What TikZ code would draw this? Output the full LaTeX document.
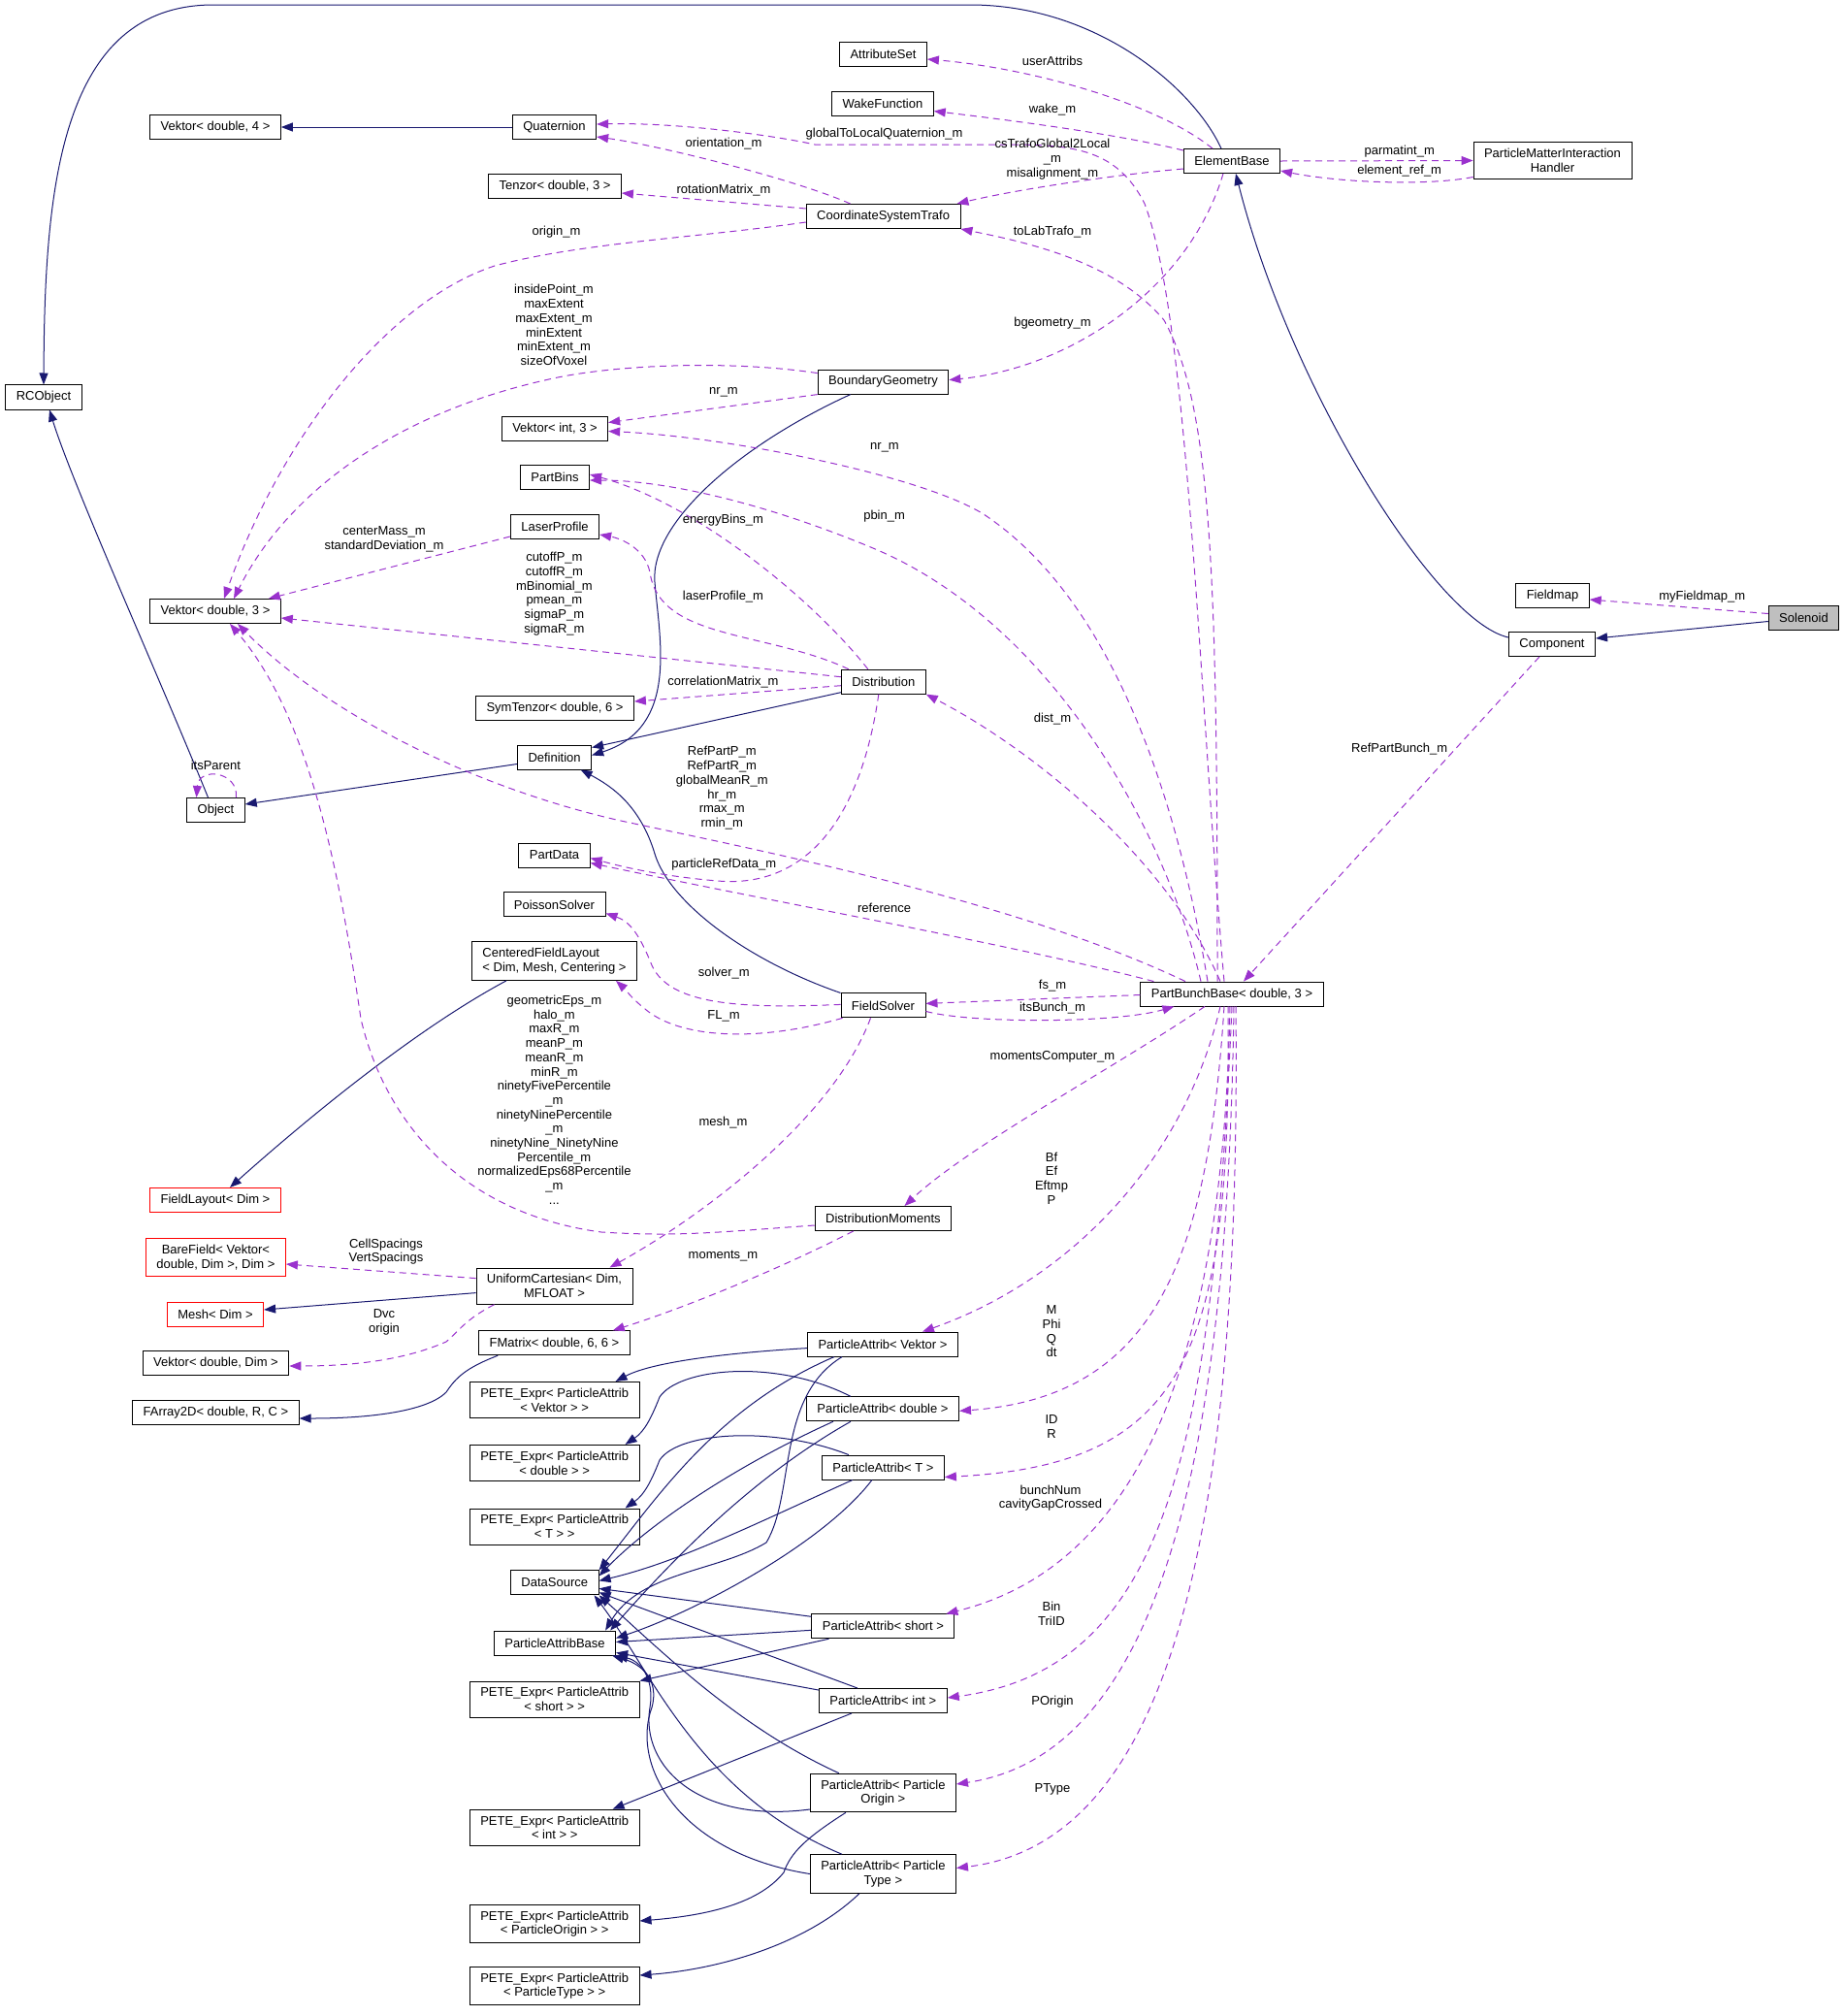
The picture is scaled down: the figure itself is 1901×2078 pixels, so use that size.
\documentclass[tikz,border=0pt]{standalone}
\usepackage{fontspec}
\setmainfont{Liberation Sans}
\usetikzlibrary{arrows.meta,calc}
\definecolor{inheritblue}{HTML}{191970}
\definecolor{usespurple}{HTML}{9A32CD}
\definecolor{rootgrey}{HTML}{BFBFBF}
\begin{document}
\begin{tikzpicture}[
    x=1pt, y=-1pt,
    font=\fontsize{13}{14.7}\selectfont,
    cls/.style={draw=black, line width=0.9pt, fill=white, minimum height=25pt, inner xsep=11pt, inner ysep=6.5pt, align=center},
    clsl/.style={cls, align=left},
    incomplete/.style={cls, draw=red},
    root/.style={cls, fill=rootgrey},
    lbl/.style={align=center, inner sep=0pt},
    uses/.style={draw=usespurple, line width=1pt, dash pattern=on 7pt off 5pt, -{Triangle[length=12pt,width=9pt]}},
    inherit/.style={draw=inheritblue, line width=1pt, -{Triangle[length=12pt,width=9pt]}}
]
\useasboundingbox (0,0) rectangle (1901,2078);

\node[cls] (RCObject) at (45,409.5) {RCObject};
\node[cls] (Vektor4) at (222,131) {Vektor< double, 4 >};
\node[cls] (Vektor3) at (222,630) {Vektor< double, 3 >};
\node[cls] (Object) at (222.5,835) {Object};
\node[incomplete] (FieldLayout) at (222,1237) {FieldLayout< Dim >};
\node[incomplete] (BareField) at (222.4,1296) {BareField< Vektor<\\double, Dim >, Dim >};
\node[incomplete] (Mesh) at (222,1355) {Mesh< Dim >};
\node[cls] (VektorDim) at (222.5,1405) {Vektor< double, Dim >};
\node[cls] (FArray2D) at (222.4,1456) {FArray2D< double, R, C >};

\node[cls] (Quaternion) at (571.5,131) {Quaternion};
\node[cls] (Tenzor) at (572,192) {Tenzor< double, 3 >};
\node[cls] (VektorInt3) at (572,441.5) {Vektor< int, 3 >};
\node[cls] (PartBins) at (572,492) {PartBins};
\node[cls] (LaserProfile) at (572,543) {LaserProfile};
\node[cls] (SymTenzor) at (572,730) {SymTenzor< double, 6 >};
\node[cls] (Definition) at (571.6,780.5) {Definition};
\node[cls] (PartData) at (571.5,881.5) {PartData};
\node[cls] (PoissonSolver) at (571.5,932.4) {PoissonSolver};
\node[clsl] (CFL) at (571.5,990.5) {CenteredFieldLayout\\< Dim, Mesh, Centering >};
\node[cls] (UniformCartesian) at (571.5,1325.6) {UniformCartesian< Dim,\\MFLOAT >};
\node[cls] (FMatrix) at (571.5,1384.3) {FMatrix< double, 6, 6 >};
\node[cls] (PeteVektor) at (571.7,1443) {PETE\_Expr< ParticleAttrib\\< Vektor > >};
\node[cls] (PeteDouble) at (571.7,1508) {PETE\_Expr< ParticleAttrib\\< double > >};
\node[cls] (PeteT) at (571.7,1573.5) {PETE\_Expr< ParticleAttrib\\< T > >};
\node[cls] (DataSource) at (571.8,1631.4) {DataSource};
\node[cls] (PAB) at (572,1693.5) {ParticleAttribBase};
\node[cls] (PeteShort) at (571.7,1751.6) {PETE\_Expr< ParticleAttrib\\< short > >};
\node[cls] (PeteInt) at (571.7,1883.8) {PETE\_Expr< ParticleAttrib\\< int > >};
\node[cls] (PeteOrigin) at (571.7,1983) {PETE\_Expr< ParticleAttrib\\< ParticleOrigin > >};
\node[cls] (PeteType) at (571.7,2047) {PETE\_Expr< ParticleAttrib\\< ParticleType > >};

\node[cls] (AttributeSet) at (910.5,56) {AttributeSet};
\node[cls] (WakeFunction) at (910,106.5) {WakeFunction};
\node[cls] (CST) at (910.6,223) {CoordinateSystemTrafo};
\node[cls] (BoundaryGeometry) at (910.5,393.6) {BoundaryGeometry};
\node[cls] (Distribution) at (910.8,702.7) {Distribution};
\node[cls] (FieldSolver) at (910.5,1036.4) {FieldSolver};
\node[cls] (DistributionMoments) at (910.4,1256) {DistributionMoments};
\node[cls] (PAVektor) at (910,1385.6) {ParticleAttrib< Vektor >};
\node[cls] (PADouble) at (910,1452.3) {ParticleAttrib< double >};
\node[cls] (PAT) at (910.4,1512.5) {ParticleAttrib< T >};
\node[cls] (PAShort) at (910.4,1676.3) {ParticleAttrib< short >};
\node[cls] (PAInt) at (910.4,1753) {ParticleAttrib< int >};
\node[cls] (PAOrigin) at (910.4,1848) {ParticleAttrib< Particle\\Origin >};
\node[cls] (PAType) at (910.4,1931.5) {ParticleAttrib< Particle\\Type >};

\node[cls] (ElementBase) at (1270,166) {ElementBase};
\node[cls] (PartBunchBase) at (1270,1024.5) {PartBunchBase< double, 3 >};
\node[cls] (PMI) at (1600.5,165.5) {ParticleMatterInteraction\\Handler};
\node[cls] (Fieldmap) at (1600.5,614) {Fieldmap};
\node[cls] (Component) at (1600,664) {Component};
\node[root] (Solenoid) at (1859.5,636.5) {Solenoid};

% inheritance
\draw[inherit] ($(Object.north)+(-8,0)$) .. controls (165,700) and (75,500) .. ($(RCObject.south)+(6,0)$);
\draw[inherit] ($(ElementBase.north)+(-11,0)$) .. controls (1230,90) and (1130,5) .. (1000,5) -- (220,5) .. controls (60,5) and (46,200) .. (RCObject.north);
\draw[inherit] (Quaternion.west) -- (Vektor4.east);
\draw[inherit] ($(Distribution.west)+(0,11)$) -- ($(Definition.east)+(0,-10)$);
\draw[inherit] ($(BoundaryGeometry.south west)+(34,0)$) .. controls (760,460) and (670,540) .. (675,600) .. controls (680,660) and (700,750) .. ($(Definition.east)+(0,-2)$);
\draw[inherit] (FieldSolver.north west) .. controls (770,990) and (690,930) .. (675,880) .. controls (660,830) and (630,810) .. ($(Definition.south)+(27,0)$);
\draw[inherit] ($(Definition.west)+(0,7)$) -- ($(Object.east)+(0,-6)$);
\draw[inherit] ($(CFL.south west)+(36,0)$) .. controls (430,1060) and (320,1150) .. ($(FieldLayout.north)+(15,0)$);
\draw[inherit] ($(UniformCartesian.west)+(0,7)$) -- ($(Mesh.east)+(0,-5)$);
\draw[inherit] ($(FMatrix.south west)+(20,0)$) .. controls (480,1410) and (470,1420) .. (460,1435) .. controls (440,1455) and (380,1462) .. ($(FArray2D.east)+(0,6)$);
\draw[inherit] ($(Component.west)+(0,-7)$) .. controls (1480,640) and (1330,400) .. ($(ElementBase.south)+(4,0)$);
\draw[inherit] ($(Solenoid.west)+(0,4)$) -- ($(Component.east)+(0,-6)$);

\draw[inherit] ($(PAVektor.west)+(0,4)$) .. controls (740,1395) and (670,1405) .. ($(PeteVektor.north east)+(-25,0)$);
\draw[inherit] ($(PADouble.north west)+(46,0)$) .. controls (800,1400) and (700,1410) .. (680,1440) .. controls (672,1460) and (665,1475) .. ($(PeteDouble.north east)+(-15,0)$);
\draw[inherit] ($(PAT.north west)+(28,0)$) .. controls (800,1470) and (700,1475) .. (680,1505) .. controls (672,1525) and (665,1540) .. ($(PeteT.north east)+(-15,0)$);
\draw[inherit] ($(PAShort.south west)+(18,0)$) -- (PeteShort.north east);
\draw[inherit] ($(PAInt.south west)+(34,0)$) -- ($(PeteInt.north east)+(-28,0)$);
\draw[inherit] ($(PAOrigin.south west)+(37,0)$) .. controls (830,1895) and (815,1910) .. (808,1930) .. controls (780,1965) and (720,1975) .. ($(PeteOrigin.east)+(0,-3)$);
\draw[inherit] ($(PAType.south west)+(51,0)$) .. controls (830,2005) and (740,2030) .. ($(PeteType.east)+(0,-11)$);

\draw[inherit] ($(PAVektor.south west)+(28,0)$) .. controls (740,1450) and (680,1540) .. (DataSource.north east);
\draw[inherit] ($(PADouble.south west)+(28,0)$) .. controls (760,1510) and (670,1570) .. ($(DataSource.east)+(0,-7)$);
\draw[inherit] ($(PAT.south west)+(32,0)$) .. controls (780,1570) and (700,1610) .. ($(DataSource.east)+(0,-2)$);
\draw[inherit] ($(PAShort.west)+(0,-10)$) -- ($(DataSource.east)+(0,6)$);
\draw[inherit] ($(PAInt.north west)+(40,0)$) -- ($(DataSource.east)+(0,10)$);
\draw[inherit] ($(PAOrigin.north west)+(30,0)$) .. controls (760,1780) and (680,1700) .. (DataSource.south east);
\draw[inherit] ($(PAType.north west)+(33,0)$) .. controls (720,1850) and (670,1720) .. ($(DataSource.south east)+(-5,0)$);

\draw[inherit] ($(PAVektor.south west)+(36,0)$) .. controls (800,1440) and (820,1540) .. (790,1590) .. controls (740,1620) and (660,1620) .. ($(PAB.north east)+(-11,0)$);
\draw[inherit] ($(PADouble.south west)+(46,0)$) .. controls (780,1520) and (700,1600) .. ($(PAB.north east)+(-6,0)$);
\draw[inherit] ($(PAT.south west)+(52,0)$) .. controls (850,1590) and (720,1660) .. ($(PAB.east)+(0,-5)$);
\draw[inherit] ($(PAShort.west)+(0,4)$) -- ($(PAB.east)+(0,-1)$);
\draw[inherit] ($(PAInt.north west)+(0,2)$) -- ($(PAB.south east)+(0,-3)$);
\draw[inherit] ($(PAOrigin.west)+(0,17)$) .. controls (720,1880) and (660,1820) .. (670,1760) .. controls (675,1730) and (660,1712) .. (PAB.south east);
\draw[inherit] (PAType.west) .. controls (700,1910) and (650,1820) .. (672,1760) .. controls (680,1730) and (660,1715) .. ($(PAB.south east)+(-4,0)$);

% members
\draw[uses] ($(ElementBase.north)+(-20,0)$) .. controls (1190,105) and (1060,70) .. ($(AttributeSet.east)+(0,5)$);
\draw[uses] ($(ElementBase.west)+(0,-11)$) .. controls (1150,138) and (1050,125) .. ($(WakeFunction.east)+(0,8)$);
\draw[uses] ($(ElementBase.west)+(0,8)$) .. controls (1150,180) and (1050,195) .. ($(CST.north east)+(-4,0)$);
\draw[uses] ($(ElementBase.south)+(-9,0)$) .. controls (1225,300) and (1100,380) .. ($(BoundaryGeometry.east)+(0,-2)$);
\draw[uses] (ElementBase.east) -- (PMI.west);
\draw[uses] ($(PMI.west)+(0,17)$) .. controls (1470,192) and (1380,188) .. ($(ElementBase.east)+(0,10)$);
\draw[uses] ($(CST.west)+(0,-8)$) -- ($(Tenzor.east)+(0,7)$);
\draw[uses] ($(CST.north)+(-34,0)$) .. controls (820,185) and (680,150) .. ($(Quaternion.east)+(0,10)$);
\draw[uses] ($(PartBunchBase.north)+(-8,0)$) .. controls (1235,700) and (1225,330) .. (1180,210) .. controls (1150,150) and (1100,149) .. (1030,149) -- (840,149) .. controls (800,140) and (700,126) .. ($(Quaternion.east)+(0,-3)$);
\draw[uses] ($(PartBunchBase.north)+(-15,0)$) .. controls (1255,600) and (1250,420) .. (1200,330) .. controls (1150,270) and (1060,250) .. (CST.south east);
\draw[uses] ($(BoundaryGeometry.west)+(0,-9)$) .. controls (760,372) and (650,375) .. (580,388) .. controls (420,420) and (300,500) .. ($(Vektor3.north)+(19,0)$);
\draw[uses] ($(CST.west)+(0,6)$) .. controls (720,245) and (600,250) .. (510,274) .. controls (400,310) and (290,450) .. ($(Vektor3.north)+(9,0)$);
\draw[uses] ($(BoundaryGeometry.west)+(0,13)$) -- ($(VektorInt3.east)+(0,-6)$);
\draw[uses] ($(PartBunchBase.north)+(-25,0)$) .. controls (1215,830) and (1150,620) .. (1014,530) .. controls (950,490) and (750,450) .. ($(VektorInt3.east)+(0,3)$);
\draw[uses] ($(PartBunchBase.north)+(-32,0)$) .. controls (1200,850) and (1080,640) .. (900,565) .. controls (780,515) and (680,495) .. ($(PartBins.east)+(0,3)$);
\draw[uses] ($(Distribution.north)+(-16,0)$) .. controls (840,620) and (720,520) .. ($(PartBins.east)+(0,-3)$);
\draw[uses] ($(Distribution.north west)+(8,0)$) .. controls (790,650) and (680,660) .. (670,590) .. controls (665,565) and (640,555) .. ($(LaserProfile.east)+(0,8)$);
\draw[uses] ($(Distribution.west)+(0,-5)$) -- ($(Vektor3.east)+(0,7)$);
\draw[uses] ($(Distribution.west)+(0,4)$) -- ($(SymTenzor.east)+(0,-7)$);
\draw[uses] ($(Object.north)+(21,0)$) .. controls (246,795) and (205,790) .. ($(Object.north)+(-20,0)$);
\draw[uses] ($(LaserProfile.west)+(0,10)$) -- ($(Vektor3.north east)+(-13,0)$);
\draw[uses] ($(PartBunchBase.north)+(-48,0)$) .. controls (1050,930) and (800,880) .. (640,846) .. controls (480,810) and (330,730) .. ($(Vektor3.south)+(23,0)$);
\draw[uses] ($(PartBunchBase.north west)+(14,0)$) .. controls (1050,975) and (800,930) .. ($(PartData.east)+(0,8)$);
\draw[uses] ($(Distribution.south)+(-5,0)$) .. controls (885,860) and (820,915) .. (740,908) .. controls (680,903) and (640,893) .. ($(PartData.east)+(0,3)$);
\draw[uses] ($(PartBunchBase.north)+(-12,0)$) .. controls (1200,880) and (1060,770) .. (Distribution.south east);
\draw[uses] ($(PartBunchBase.west)+(0,1)$) -- ($(FieldSolver.east)+(0,-2)$);
\draw[uses] ($(FieldSolver.east)+(0,6)$) .. controls (1000,1055) and (1150,1055) .. ($(PartBunchBase.south west)+(35,0)$);
\draw[uses] ($(FieldSolver.west)+(0,-1)$) .. controls (760,1040) and (690,1035) .. (672,995) .. controls (660,965) and (650,950) .. ($(PoissonSolver.east)+(0,9)$);
\draw[uses] ($(FieldSolver.south west)+(2,0)$) .. controls (780,1075) and (700,1070) .. (665,1040) .. controls (650,1028) and (645,1020) .. ($(CFL.south east)+(-22,0)$);
\draw[uses] ($(FieldSolver.south)+(-13,0)$) .. controls (860,1150) and (730,1250) .. ($(UniformCartesian.north east)+(-24,0)$);
\draw[uses] ($(DistributionMoments.west)+(0,7)$) .. controls (740,1270) and (700,1275) .. (620,1270) .. controls (470,1250) and (395,1150) .. (372,1050) .. controls (350,900) and (320,740) .. ($(Vektor3.south)+(15,0)$);
\draw[uses] ($(UniformCartesian.west)+(0,-8)$) -- ($(BareField.east)+(0,7)$);
\draw[uses] ($(UniformCartesian.south west)+(19,0)$) .. controls (480,1360) and (475,1370) .. (460,1383) .. controls (410,1405) and (350,1408) .. ($(VektorDim.east)+(0,3)$);
\draw[uses] ($(DistributionMoments.south west)+(40,0)$) .. controls (800,1310) and (700,1350) .. ($(FMatrix.north east)+(-18,0)$);
\draw[uses] ($(PartBunchBase.south)+(-28,0)$) .. controls (1150,1100) and (1000,1180) .. ($(DistributionMoments.north)+(22,0)$);
\draw[uses] ($(PartBunchBase.south)+(-12,0)$) .. controls (1220,1200) and (1100,1320) .. ($(PAVektor.north east)+(-37,0)$);
\draw[uses] ($(PartBunchBase.south)+(-8,0)$) .. controls (1245,1300) and (1190,1440) .. ($(PADouble.east)+(0,2)$);
\draw[uses] ($(PartBunchBase.south)+(-4,0)$) .. controls (1270,1400) and (1220,1510) .. ($(PAT.east)+(0,10)$);
\draw[uses] ($(PartBunchBase.south)+(-2,0)$) .. controls (1260,1450) and (1150,1620) .. ($(PAShort.north east)+(-9,0)$);
\draw[uses] (PartBunchBase.south) .. controls (1250,1500) and (1200,1720) .. ($(PAInt.east)+(0,-3)$);
\draw[uses] ($(PartBunchBase.south)+(2,0)$) .. controls (1265,1550) and (1180,1810) .. ($(PAOrigin.east)+(0,-9)$);
\draw[uses] ($(PartBunchBase.south)+(4,0)$) .. controls (1280,1600) and (1200,1900) .. ($(PAType.east)+(0,-6)$);
\draw[uses] ($(Component.south)+(-13,0)$) -- ($(PartBunchBase.north)+(12,0)$);
\draw[uses] ($(Solenoid.west)+(0,-4)$) -- ($(Fieldmap.east)+(0,4)$);

% labels
\node[lbl] (lUserAttribs) at (1085,62.5) {userAttribs};
\node[lbl] (lWake) at (1085,112.6) {wake\_m};
\node[lbl] (lGlobalToLocal) at (911.6,138.6) {globalToLocalQuaternion\_m};
\node[lbl] (lOrientation) at (746,147.7) {orientation\_m};
\node[lbl] (lCsTrafo) at (1085,164) {csTrafoGlobal2Local\\\_m\\misalignment\_m};
\node[lbl] (lRotation) at (746,195.7) {rotationMatrix\_m};
\node[lbl] (lParmatint) at (1442.7,156.5) {parmatint\_m};
\node[lbl] (lElementRef) at (1442.7,176.5) {element\_ref\_m};
\node[lbl] (lToLab) at (1085,238.7) {toLabTrafo\_m};
\node[lbl] (lOrigin) at (573.5,239) {origin\_m};
\node[lbl] (lInside) at (571,335) {insidePoint\_m\\maxExtent\\maxExtent\_m\\minExtent\\minExtent\_m\\sizeOfVoxel};
\node[lbl] (lBgeometry) at (1085,333) {bgeometry\_m};
\node[lbl] (lNrA) at (746,404.7) {nr\_m};
\node[lbl] (lNrB) at (912,460.8) {nr\_m};
\node[lbl] (lPbin) at (911.6,532) {pbin\_m};
\node[lbl] (lEnergyBins) at (745.5,535.9) {energyBins\_m};
\node[lbl] (lCenterMass) at (396,556) {centerMass\_m\\standardDeviation\_m};
\node[lbl] (lCutoff) at (571.4,612) {cutoffP\_m\\cutoffR\_m\\mBinomial\_m\\pmean\_m\\sigmaP\_m\\sigmaR\_m};
\node[lbl] (lMyFieldmap) at (1754.7,615) {myFieldmap\_m};
\node[lbl] (lLaserProfile) at (745.5,614.7) {laserProfile\_m};
\node[lbl] (lCorrelation) at (745.5,702.6) {correlationMatrix\_m};
\node[lbl] (lDist) at (1085,740.8) {dist\_m};
\node[lbl] (lRefPartBunch) at (1442.7,772) {RefPartBunch\_m};
\node[lbl] (lItsParent) at (222.4,788.8) {itsParent};
\node[lbl] (lRefPart) at (744.3,812.3) {RefPartP\_m\\RefPartR\_m\\globalMeanR\_m\\hr\_m\\rmax\_m\\rmin\_m};
\node[lbl] (lParticleRefData) at (746.3,890.9) {particleRefData\_m};
\node[lbl] (lReference) at (911.6,935.8) {reference};
\node[lbl] (lSolver) at (746.3,1002.8) {solver\_m};
\node[lbl] (lFs) at (1085,1016) {fs\_m};
\node[lbl] (lItsBunch) at (1085,1039) {itsBunch\_m};
\node[lbl] (lFL) at (746,1047.4) {FL\_m};
\node[lbl] (lMomentsComputer) at (1085,1089) {momentsComputer\_m};
\node[lbl] (lGeometricEps) at (571.4,1133.7) {geometricEps\_m\\halo\_m\\maxR\_m\\meanP\_m\\meanR\_m\\minR\_m\\ninetyFivePercentile\\\_m\\ninetyNinePercentile\\\_m\\ninetyNine\_NinetyNine\\Percentile\_m\\normalizedEps68Percentile\\\_m\\...};
\node[lbl] (lMesh) at (745.5,1156.6) {mesh\_m};
\node[lbl] (lFields) at (1084,1214.4) {Bf\\Ef\\Eftmp\\P};
\node[lbl] (lSpacings) at (398,1290) {CellSpacings\\VertSpacings};
\node[lbl] (lMoments) at (745.5,1294.6) {moments\_m};
\node[lbl] (lScalars) at (1084,1372.3) {M\\Phi\\Q\\dt};
\node[lbl] (lDvc) at (396,1363) {Dvc\\origin};
\node[lbl] (lIdR) at (1084,1470.8) {ID\\R};
\node[lbl] (lBunchNum) at (1083,1544) {bunchNum\\cavityGapCrossed};
\node[lbl] (lBin) at (1084,1663) {Bin\\TriID};
\node[lbl] (lPOrigin) at (1085,1754) {POrigin};
\node[lbl] (lPType) at (1085,1844) {PType};
\end{tikzpicture}
\end{document}
